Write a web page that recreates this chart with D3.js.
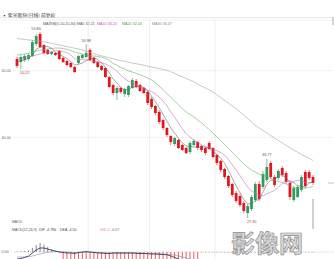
<!DOCTYPE html>
<html lang="zh">
<head>
<meta charset="utf-8" />
<title>日线 K线图</title>
<style>
  body { margin: 0; background: #fff; }
  svg { display: block; font-family: "Liberation Sans", "Noto Sans CJK SC", sans-serif; }
</style>
</head>
<body>
<svg id="chart" width="334" height="259"></svg>
<script src="https://cdn.jsdelivr.net/npm/d3@7/dist/d3.min.js"></script>
<script>
// daily OHLC
const opens = [51.75,51.30,51.60,51.75,52.20,54.00,55.50,53.85,53.10,52.50,
  52.65,52.95,51.90,51.45,51.15,50.55,51.15,51.90,52.05,53.10,
  51.90,51.30,50.70,50.40,49.05,47.85,46.65,47.40,46.50,46.35,
  47.40,48.45,47.85,47.40,46.80,45.75,44.70,43.80,42.60,41.40,
  40.20,39.00,39.60,38.85,38.40,37.80,38.85,39.30,38.70,38.40,
  39.15,38.40,37.35,36.45,35.25,34.20,33.00,31.65,31.20,30.15,
  28.65,29.25,30.60,33.00,32.55,33.60,36.15,34.05,33.90,35.40,
  34.65,33.15,30.60,31.05,32.10,34.80,34.80,34.05];
const closes = [50.70,52.05,52.20,52.35,54.30,55.20,53.55,52.65,52.50,52.80,
  52.35,51.75,51.30,50.85,50.55,49.80,52.20,52.35,52.65,51.60,
  51.15,50.55,50.10,49.05,47.55,46.65,47.40,46.80,47.25,47.70,
  48.60,47.55,46.95,46.65,45.15,44.55,43.65,42.30,41.40,40.35,
  39.30,39.90,38.40,38.10,37.65,39.15,39.45,38.40,38.10,37.65,
  38.25,37.05,36.15,35.10,34.05,32.70,31.35,30.45,29.85,28.95,
  29.70,31.05,33.00,30.75,34.50,35.55,34.05,32.85,34.95,34.35,
  33.30,31.05,32.40,32.55,34.05,32.70,33.90,33.15];
const highs = [52.05,52.35,52.50,52.65,54.60,55.50,55.80,54.00,53.25,52.95,
  52.80,53.10,52.05,51.60,51.30,50.70,52.35,52.50,53.98,53.40,
  52.05,51.45,50.85,50.55,49.20,48.00,47.70,47.55,47.40,47.85,
  48.90,48.75,48.00,47.55,46.95,46.05,44.85,44.10,42.75,41.55,
  40.35,40.05,39.75,39.00,38.55,39.45,39.75,39.45,38.85,38.55,
  39.45,38.55,37.50,36.60,35.40,34.35,33.15,31.95,31.50,30.45,
  30.00,31.35,33.30,33.45,34.95,36.77,36.45,34.35,35.25,35.70,
  34.95,33.45,32.70,32.85,34.35,35.10,35.10,34.35];
const lows = [50.40,50.22,51.30,51.45,52.05,53.70,53.40,52.50,52.35,52.35,
  52.20,51.60,51.15,50.70,50.40,49.65,51.00,51.75,51.90,51.45,
  51.00,50.40,49.95,48.90,47.40,46.35,45.60,46.50,46.05,46.05,
  47.25,47.40,46.80,46.50,44.85,44.25,43.35,42.00,41.10,40.05,
  38.85,38.70,38.25,37.95,37.50,37.50,38.70,38.10,37.80,37.35,
  38.10,36.90,35.85,34.80,33.75,32.40,31.05,30.15,29.55,28.65,
  27.90,28.95,30.30,30.45,32.25,33.30,33.75,32.55,33.60,34.05,
  33.00,30.60,30.30,30.90,31.80,32.40,33.60,32.85];

// moving averages as drawn
const ma5 = [51.30,51.45,51.60,51.83,52.32,53.22,53.52,53.61,53.64,53.34,
  52.77,52.41,52.14,51.81,51.36,50.85,50.94,51.15,51.51,51.72,
  51.99,51.66,51.21,50.49,49.68,48.78,48.15,47.49,47.13,47.16,
  47.55,47.58,47.61,47.49,46.98,46.17,45.39,44.46,43.41,42.45,
  41.40,40.65,39.87,39.21,38.67,38.64,38.55,38.55,38.55,38.55,
  38.37,37.89,37.44,36.84,36.12,35.01,33.87,32.73,31.68,30.66,
  30.06,30.00,30.51,30.69,31.80,32.97,33.57,33.54,34.38,34.35,
  33.90,33.30,33.21,32.73,32.67,32.55,33.12,33.27];
const ma10 = [51.90,51.90,52.05,52.05,52.20,52.35,52.50,52.65,52.80,52.83,
  53.00,52.97,52.88,52.73,52.35,51.81,51.68,51.65,51.66,51.54,
  51.42,51.30,51.18,51.00,50.70,50.39,49.91,49.35,48.81,48.42,
  48.17,47.87,47.55,47.31,47.07,46.86,46.49,46.04,45.45,44.72,
  43.79,43.02,42.17,41.31,40.56,40.02,39.60,39.21,38.88,38.61,
  38.51,38.22,38.00,37.70,37.34,36.69,35.88,35.09,34.26,33.39,
  32.54,31.94,31.62,31.19,31.23,31.52,31.79,32.03,32.54,33.08,
  33.44,33.44,33.38,33.56,33.51,33.23,33.21,33.24];
const ma20 = [52.35,52.43,52.50,52.58,52.80,52.95,53.10,53.18,53.25,53.33,
  53.40,53.40,53.33,53.18,53.03,52.80,52.65,52.50,52.35,52.19,
  52.20,52.13,52.02,51.86,51.53,51.09,50.79,50.49,50.24,49.98,
  49.79,49.58,49.37,49.16,48.89,48.62,48.20,47.69,47.13,46.56,
  45.98,45.44,44.85,44.31,43.82,43.44,43.04,42.62,42.17,41.66,
  41.15,40.62,40.08,39.50,38.94,38.36,37.74,37.14,36.57,36.00,
  35.52,35.07,34.80,34.44,34.28,34.10,33.83,33.56,33.39,33.23,
  32.99,32.69,32.49,32.37,32.37,32.37,32.49,32.63];
const ma30 = [54.83,54.75,54.68,54.60,54.56,54.51,54.45,54.33,54.21,54.09,
  53.97,53.85,53.73,53.61,53.49,53.37,53.25,53.09,52.91,52.74,
  52.56,52.38,52.23,52.08,51.93,51.78,51.63,51.51,51.39,51.27,
  51.15,51.03,50.93,50.81,50.67,50.55,50.43,50.31,50.19,50.07,
  49.83,49.58,49.32,49.08,48.83,48.60,48.30,48.00,47.70,47.40,
  47.10,46.80,46.38,45.96,45.54,45.12,44.70,44.33,43.83,43.32,
  42.81,42.30,41.78,41.40,41.03,40.65,40.28,39.90,39.53,39.15,
  38.81,38.46,38.10,37.76,37.43,37.13,36.83,36.53];

// MACD panel
const difs = [-1.4,-1.3,-1.1,-0.8,-0.2,0.4,0.8,0.8,0.6,0.4,
  0.2,0.0,-0.1,-0.2,-0.2,-0.3,-0.1,0.0,0.1,0.0,
  -0.1,-0.2,-0.2,-0.3,-0.3,-0.2,-0.2,-0.2,-0.2,-0.2,
  -0.2,-0.25,-0.3,-0.3,-0.35,-0.4,-0.4,-0.45,-0.5,-0.55,
  -0.8,-1.1,-1.4,-1.7,-2.0,-2.4,-2.6,-2.7,-2.8,-2.9,
  -3.0,-3.2,-3.4,-3.6,-3.8,-4.0,-4.3,-4.6,-4.9,-5.2,
  -5.4,-5.5,-5.6,-5.6,-5.5,-5.4,-5.3,-5.2,-5.1,-5.0,
  -5.0,-4.95,-4.9,-4.85,-4.8,-4.8,-4.79,-4.786];
const deas = [-1.0,-1.0,-1.0,-0.95,-0.8,-0.6,-0.4,-0.2,-0.05,0.05,
  0.1,0.1,0.05,0.0,-0.05,-0.1,-0.1,-0.1,-0.05,-0.05,
  -0.05,-0.1,-0.1,-0.15,-0.2,-0.2,-0.2,-0.2,-0.2,-0.2,
  -0.2,-0.2,-0.2,-0.25,-0.25,-0.3,-0.3,-0.35,-0.4,-0.45,
  -0.5,-0.6,-0.8,-1.0,-1.2,-1.4,-1.6,-1.8,-2.0,-2.2,
  -2.3,-2.5,-2.6,-2.8,-3.0,-3.2,-3.4,-3.6,-3.8,-4.0,
  -4.2,-4.4,-4.5,-4.7,-4.8,-4.85,-4.9,-4.9,-4.9,-4.9,
  -4.85,-4.8,-4.75,-4.7,-4.65,-4.6,-4.55,-4.50];
const hist = [0.1,0.15,0.2,0.3,0.8,1.4,1.8,1.5,1.0,0.5,
  0.2,-0.1,-1.5,-1.6,-1.7,-1.8,-1.6,-1.5,-1.6,-1.7,
  -1.8,-1.8,-1.9,-1.9,-2.0,-2.0,-1.9,-1.9,-1.8,-1.8,
  -1.7,-1.8,-1.8,-1.9,-1.9,-2.0,-2.0,-2.0,-2.0,-2.0,
  -1.9,-1.9,-1.8,-1.8,-1.7,-1.6,-1.5,-1.5,-0.1,-0.1,
  -0.1,-0.1,-0.1,-0.1,-0.1,-0.1,-0.1,-0.1,-0.1,-0.1,
  -0.1,-0.1,-0.1,-0.1,-0.1,-0.1,-0.1,-0.1,-0.1,-0.1,
  -0.1,-0.1,-0.1,-0.1,-0.1,-0.1,-0.1,-0.1];

const priceTicks = [40, 50];
const monthStarts = [19, 35, 52];
const highMarks = [6, 18, 65];
const lowMarks = [1, 60];
const maLegend = [
  { text: "MA均线(5,10,20,30) MA5 32.21", color: "#555" },
  { text: "MA10 33.20", color: "#c04fc0" },
  { text: "MA20 32.44", color: "#4fa34f" },
  { text: "MA30 36.47", color: "#8a8a8a" }
];

const RED = "#e3161d", GREEN = "#2f9b5c";
const W = 334, H = 259;
const svg = d3.select("#chart");

const idx = d3.range(closes.length);
const x = d3.scalePoint().domain(idx).range([17, 313]);
const step = x.step();
const y = d3.scaleLinear().domain([26.4, 57.75]).range([228, 19]);
const ym = d3.scaleLinear().domain([-1.4, 3.6]).range([259, 234]);

// header
svg.append("text").attr("x", 2).attr("y", 16.5)
  .attr("font-size", 4.8).attr("fill", "#333")
  .attr("font-family", "Noto Sans CJK SC")
  .text("▪ 紫光股份(日线) 前复权");
svg.append("line").attr("x1", 0).attr("x2", W).attr("y1", 17.5).attr("y2", 17.5)
  .attr("stroke", "#d8d8d8").attr("stroke-width", 0.6);
svg.append("line").attr("x1", 0).attr("x2", W).attr("y1", 20).attr("y2", 20)
  .attr("stroke", "#e6e6e6").attr("stroke-width", 0.6);
svg.append("line").attr("x1", 333).attr("x2", 333).attr("y1", 17).attr("y2", 25)
  .attr("stroke", "#999").attr("stroke-width", 0.8);

const legX = [43, 97, 122, 152];
svg.append("g").selectAll("text").data(maLegend).join("text")
  .attr("x", (d, i) => legX[i]).attr("y", 24.5)
  .attr("font-size", 3.7).attr("fill", d => d.color)
  .attr("font-family", "Liberation Sans, Noto Sans CJK SC")
  .text(d => d.text);

// grid
const grid = svg.append("g");
grid.selectAll(".v").data(monthStarts).join("line")
  .attr("x1", d => x(d) - step / 2).attr("x2", d => x(d) - step / 2)
  .attr("y1", 20).attr("y2", H)
  .attr("stroke", "#e4e4e4").attr("stroke-width", 0.7);
grid.selectAll(".h").data(priceTicks).join("line")
  .attr("x1", 13).attr("x2", W)
  .attr("y1", d => y(d)).attr("y2", d => y(d))
  .attr("stroke", "#cfcfcf").attr("stroke-width", 0.6)
  .attr("stroke-dasharray", "1,1.2");
grid.selectAll("text").data(priceTicks).join("text")
  .attr("x", 1.5).attr("y", d => y(d) + 1.3)
  .attr("font-size", 3.7).attr("fill", "#666")
  .text(d => d.toFixed(2));

// candles
const candles = svg.append("g").selectAll("g").data(idx).join("g");
const col = i => (closes[i] >= opens[i] ? GREEN : RED);
candles.append("line")
  .attr("x1", i => x(i)).attr("x2", i => x(i))
  .attr("y1", i => y(highs[i])).attr("y2", i => y(lows[i]))
  .attr("stroke", col).attr("stroke-width", 0.6);
candles.append("rect")
  .attr("x", i => x(i) - step * 0.36).attr("width", step * 0.72)
  .attr("y", i => y(Math.max(opens[i], closes[i])))
  .attr("height", i => Math.max(0.7, Math.abs(y(opens[i]) - y(closes[i]))))
  .attr("fill", col);

// moving averages
const maSeries = [
  { values: ma30, color: "#a3a3a3" },
  { values: ma20, color: "#69b069" },
  { values: ma10, color: "#c070c0" },
  { values: ma5, color: "#6c6c6c" }
];
const maLine = d3.line().x((d, i) => x(i)).y(d => y(d));
svg.append("g").selectAll("path").data(maSeries).join("path")
  .attr("d", d => maLine(d.values))
  .attr("fill", "none").attr("stroke", d => d.color).attr("stroke-width", 0.6);

// high / low marks
svg.append("g").selectAll("text").data(highMarks).join("text")
  .attr("x", i => (i < 10 ? x(i) - 4 : x(i))).attr("y", i => y(highs[i]) - 2.5)
  .attr("text-anchor", "middle").attr("font-size", 3.8).attr("fill", "#556")
  .text(i => highs[i].toFixed(2));
svg.append("g").selectAll("text").data(lowMarks).join("text")
  .attr("x", i => x(i) + 4).attr("y", i => y(lows[i]) + 4.5)
  .attr("text-anchor", "middle").attr("font-size", 3.8).attr("fill", "#b04040")
  .text(i => lows[i].toFixed(2));

// cursor mark
svg.append("line").attr("x1", x(77)).attr("x2", x(77)).attr("y1", 199).attr("y2", 229)
  .attr("stroke", "#8a8a8a").attr("stroke-width", 0.8);
svg.append("line").attr("x1", 328).attr("x2", W).attr("y1", 183).attr("y2", 183)
  .attr("stroke", "#999").attr("stroke-width", 0.6);

// MACD panel
svg.append("text").attr("x", 12).attr("y", 223).attr("font-size", 3.4).attr("fill", "#555").text("MACD");
const macdLabels = [
  { x: 12, text: "MACD(12,26,9)", color: "#555" },
  { x: 39, text: "DIF -4.786", color: "#445" },
  { x: 60, text: "DEA -4.50", color: "#445" },
  { x: 100, text: "MACD", color: "#e6a6a6" },
  { x: 111, text: "-0.57", color: "#666" }
];
svg.append("g").selectAll("text").data(macdLabels).join("text")
  .attr("x", d => d.x).attr("y", 230.5).attr("font-size", 3.6)
  .attr("fill", d => d.color).text(d => d.text);

svg.append("line").attr("x1", 14).attr("x2", W).attr("y1", ym(0)).attr("y2", ym(0))
  .attr("stroke", "#bbb").attr("stroke-width", 0.6).attr("stroke-dasharray", "1.5,1.2");
svg.append("text").attr("x", 1.5).attr("y", ym(0) + 1.3).attr("font-size", 3.7)
  .attr("fill", "#666").text("0.00");

svg.append("g").selectAll("line").data(idx).join("line")
  .attr("x1", i => x(i)).attr("x2", i => x(i))
  .attr("y1", ym(0)).attr("y2", i => ym(hist[i]))
  .attr("stroke", i => (hist[i] >= 0 ? "#555" : RED)).attr("stroke-width", 0.7);

const macdLine = d3.line().x((d, i) => x(i)).y(d => ym(d));
svg.append("path").attr("d", macdLine(deas)).attr("fill", "none")
  .attr("stroke", "#8c8c9c").attr("stroke-width", 0.6);
svg.append("path").attr("d", macdLine(difs)).attr("fill", "none")
  .attr("stroke", "#1f2a5a").attr("stroke-width", 0.8);

// watermark
svg.append("text").attr("x", 267).attr("y", 251.5).attr("text-anchor", "middle")
  .attr("font-family", "Noto Sans CJK SC").attr("font-weight", "bold")
  .attr("font-size", 24).attr("fill", "#dadada").attr("stroke", "#8e8e8e")
  .attr("stroke-width", 0.7).text("影像网");
</script>
</body>
</html>
